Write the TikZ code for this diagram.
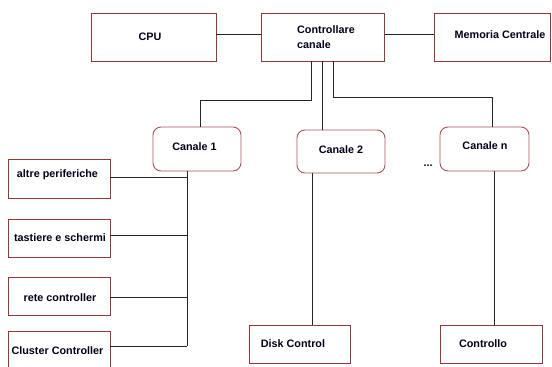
\documentclass[tikz,border=0pt]{standalone}
\usepackage{fontspec}
\setmainfont{Liberation Sans}
\begin{document}
\begin{tikzpicture}[x=1pt,y=-1pt,
  box/.style={draw=boxred,line width=0.9pt,inner sep=0pt},
  cbox/.style={draw=boxred!85!white,line width=0.9pt,rounded corners=8pt,inner sep=0pt},
  lbl/.style={font=\fontsize{10.8}{15}\selectfont\bfseries,text=black!90!blue,inner sep=0pt},
  wire/.style={draw=black!85,line width=0.8pt}]
\definecolor{boxred}{RGB}{150,55,55}
\useasboundingbox (0,0) rectangle (552,367);
\clip (0,0) rectangle (552,367);
% top row
\node[box,minimum width=124.5pt,minimum height=48pt] (cpu) at (153.75,37) {};
\node[lbl] at (150,37) {CPU};
\node[box,minimum width=123pt,minimum height=48pt] (ctrl) at (323,37) {};
\node[lbl,align=left,anchor=west] at (297,37) {Controllare\\canale};
\node[box,minimum width=115.5pt,minimum height=48pt] (mem) at (492.25,37) {};
\node[lbl] at (500,35) {Memoria Centrale};
\draw[wire] (cpu.east |- 0,34) -- (ctrl.west |- 0,34);
\draw[wire] (ctrl.east |- 0,34) -- (mem.west |- 0,34);
% channels
\node[cbox,minimum width=88pt,minimum height=44pt] (c1) at (197,149) {};
\node[lbl] at (194.5,147) {Canale 1};
\node[cbox,minimum width=88pt,minimum height=43pt] (c2) at (341,151.5) {};
\node[lbl] at (341,150) {Canale 2};
\node[cbox,minimum width=89pt,minimum height=44pt] (cn) at (484.5,149) {};
\node[lbl] at (485,146) {Canale n};
\node[lbl] (dots) at (428,166) {...};
\coordinate (k1) at (311,100);
\coordinate (k1b) at (200,100);
\coordinate (k3) at (333,97.5);
\coordinate (k3b) at (492,97.5);
\draw[wire] (ctrl.south -| k1) -- (k1) -- (k1b) -- (c1.north -| k1b);
\draw[wire] (ctrl.south -| 322,0) -- (c2.north -| 322,0);
\draw[wire] (ctrl.south -| k3) -- (k3) -- (k3b) -- (cn.north -| k3b);
% left devices
\node[box,minimum width=102pt,minimum height=39pt] (ap) at (59,178.5) {};
\node[lbl] at (57.5,175) {altre periferiche};
\node[box,minimum width=102pt,minimum height=38pt] (ts) at (59,238) {};
\node[lbl] at (60,238) {tastiere e schermi};
\node[box,minimum width=102pt,minimum height=38pt] (rc) at (59,296) {};
\node[lbl] at (60,298) {rete controller};
\node[box,minimum width=102pt,minimum height=40pt] (cc) at (59,351) {};
\node[lbl] at (57.5,351) {Cluster Controller};
\coordinate (busb) at (187,346);
\coordinate (t1) at (188,177);
\coordinate (t2) at (188,235);
\coordinate (t3) at (188,297);
\draw[wire] (c1.south -| busb) -- (busb);
\draw[wire] (ap.east |- t1) -- (t1);
\draw[wire] (ts.east |- t2) -- (t2);
\draw[wire] (rc.east |- t3) -- (t3);
\draw[wire] (cc.east |- busb) -- (busb);
% bottom devices
\node[box,minimum width=101pt,minimum height=38pt] (dc) at (299.5,344) {};
\node[lbl] at (293,344) {Disk Control};
\node[box,minimum width=102pt,minimum height=38pt] (co) at (491,344) {};
\node[lbl] at (483,344) {Controllo};
\draw[wire] (c2.south -| 312,0) -- (dc.north -| 312,0);
\draw[wire] (cn.south -| 494,0) -- (co.north -| 494,0);
\end{tikzpicture}
\end{document}
